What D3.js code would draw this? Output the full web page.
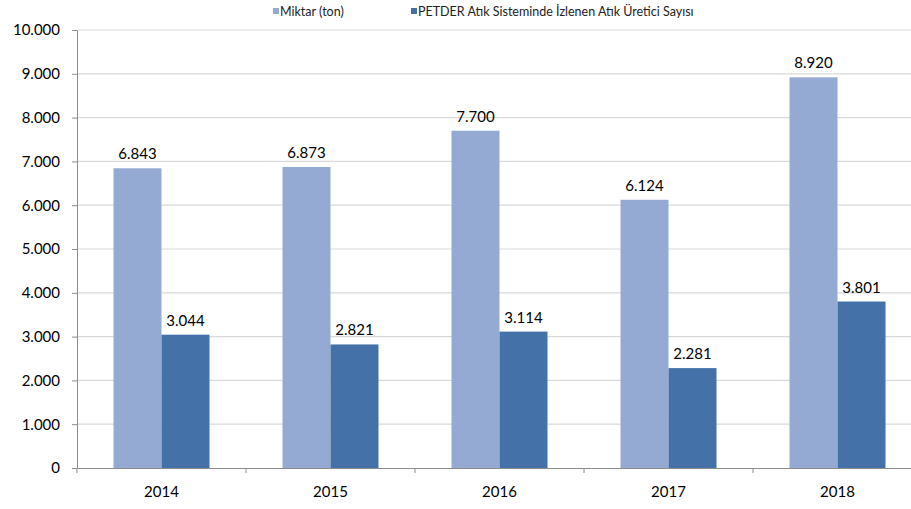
<!DOCTYPE html>
<html>
<head>
<meta charset="utf-8">
<script src="https://cdn.jsdelivr.net/npm/d3@7"></script>
<style>
  body { margin: 0; background: #fff; }
  text { font-family: "Lato", "Open Sans", sans-serif; }
</style>
</head>
<body>
<div id="chart"></div>
<script>
const years = ["2014", "2015", "2016", "2017", "2018"];
const miktar = [6843, 6873, 7700, 6124, 8920];
const ureticiSayisi = [3044, 2821, 3114, 2281, 3801];
const seriesNames = ["Miktar (ton)", "PETDER Atık Sisteminde İzlenen Atık Üretici Sayısı"];
const yTicks = [0, 1000, 2000, 3000, 4000, 5000, 6000, 7000, 8000, 9000, 10000];

const colors = ["#95aad2", "#4472a8"];

var margin = { top: 30, right: 0, bottom: 41, left: 77 },
  width = 845,
  height = 509 - margin.top - margin.bottom;

const data = years.map((y, i) => ({ year: y, values: [miktar[i], ureticiSayisi[i]] }));

const fmt = (v) => d3.format(",")(v).replace(/,/g, ".");

var svg = d3
  .select("#chart")
  .append("svg")
  .attr("width", 911)
  .attr("height", 509)
  .append("g")
  .attr("transform", "translate(" + margin.left + "," + margin.top + ")");

var x = d3.scaleBand().domain(years).range([0, width]).paddingInner(0).paddingOuter(0);
var x1 = d3.scaleBand().domain([0, 1]).range([36.5, x.bandwidth() - 36.5]);
var y = d3.scaleLinear().domain([0, 10000]).range([height, 0]);

// grid
svg
  .append("g")
  .selectAll("line")
  .data(yTicks.filter((d) => d > 0))
  .enter()
  .append("line")
  .attr("x1", 0)
  .attr("x2", width)
  .attr("y1", (d) => y(d))
  .attr("y2", (d) => y(d))
  .attr("stroke", "#d9d9d9")
  .attr("stroke-width", 1.2);

// y axis
var yAxis = svg
  .append("g")
  .call(d3.axisLeft(y).tickValues(yTicks).tickFormat(fmt).tickSizeInner(5).tickSizeOuter(0).tickPadding(12));
yAxis.select(".domain").attr("stroke", "#8c8c8c");
yAxis.selectAll(".tick line").attr("stroke", "#8c8c8c");
yAxis.selectAll("text").style("font-size", "15px").attr("fill", "#000");

// x axis
var xAxis = svg
  .append("g")
  .attr("transform", `translate(0,${height})`)
  .call(d3.axisBottom(x).tickSize(0).tickSizeOuter(0).tickPadding(18));
xAxis.select(".domain").attr("stroke", "#8c8c8c");
xAxis.selectAll("text").style("font-size", "15px").attr("fill", "#000");
svg
  .append("g")
  .selectAll("line")
  .data(years)
  .enter()
  .append("line")
  .attr("x1", (d) => x(d))
  .attr("x2", (d) => x(d))
  .attr("y1", height)
  .attr("y2", height + 5)
  .attr("stroke", "#8c8c8c");

// bars
var groups = svg
  .selectAll(".grp")
  .data(data)
  .enter()
  .append("g")
  .attr("class", "grp")
  .attr("transform", (d) => `translate(${x(d.year)},0)`);

groups
  .selectAll("rect")
  .data((d) => d.values)
  .enter()
  .append("rect")
  .attr("x", (d, i) => x1(i))
  .attr("width", x1.bandwidth())
  .attr("y", (d) => y(d))
  .attr("height", (d) => height - y(d))
  .attr("fill", (d, i) => colors[i]);

groups
  .selectAll(".lbl")
  .data((d) => d.values)
  .enter()
  .append("text")
  .attr("class", "lbl")
  .attr("x", (d, i) => x1(i) + x1.bandwidth() / 2)
  .attr("y", (d) => y(d) - 9)
  .attr("text-anchor", "middle")
  .style("font-size", "15px")
  .attr("fill", "#000")
  .text((d) => fmt(d));

// legend
var legendX = [273, 411];
var legend = d3.select("#chart svg")
  .selectAll(".leg")
  .data(seriesNames)
  .enter()
  .append("g")
  .attr("class", "leg")
  .attr("transform", (d, i) => `translate(${legendX[i]},6)`);
legend
  .append("rect")
  .attr("width", 6)
  .attr("height", 6)
  .attr("y", 2)
  .attr("fill", (d, i) => colors[i]);
legend
  .append("text")
  .attr("x", 7)
  .attr("y", 9.5)
  .style("font-size", "12.5px")
  .attr("fill", "#222")
  .text((d) => d);
</script>
</body>
</html>
